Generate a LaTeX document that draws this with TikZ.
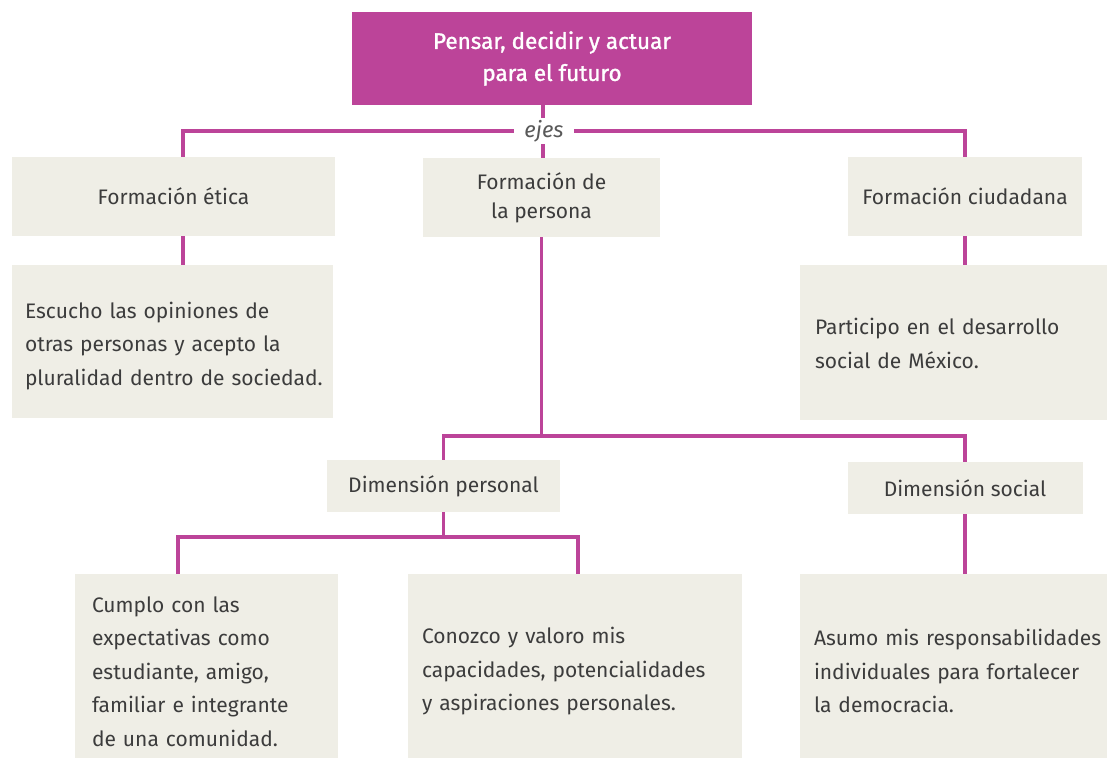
\documentclass[tikz,border=0pt]{standalone}
\usepackage{fontspec}
\setmainfont{Fira Sans}
\definecolor{mag}{HTML}{BC4499}
\definecolor{beige}{HTML}{EFEEE6}
\definecolor{txt}{HTML}{3C3C3C}
\hbadness=10000 \hfuzz=100pt
\newcommand{\topstrut}[1]{\rule{0pt}{#1}}
\tikzset{
  box/.style={fill=beige, inner sep=0pt, text=txt, font=\fontsize{21}{33.5}\selectfont},
  topbox/.style={fill=mag, inner sep=0pt, text=white, align=center, font=\fontsize{22.5}{32}\selectfont\addfontfeature{FakeBold=1.2}},
  link/.style={draw=mag, line width=3.5pt},
  lbl/.style={fill=white, inner xsep=10pt, inner ysep=2pt, text=txt!85, font=\fontsize{22}{24}\selectfont\itshape},
}
\begin{document}
\begin{tikzpicture}[x=1pt,y=-1pt]
\useasboundingbox (0,0) rectangle (1107,758);
% nodes
\node[topbox, minimum width=400pt, minimum height=93pt] (top) at (552,58.5) {Pensar, decidir y actuar\\para el futuro};
\node[box, minimum width=323pt, minimum height=79pt] (eti) at (173.5,196.5) {Formación ética};
\node[box, minimum width=237pt, minimum height=79pt, align=center, font=\fontsize{21}{29}\selectfont] (per) at (541.5,197.5) {Formación de\\la persona};
\node[box, minimum width=234pt, minimum height=79pt] (ciu) at (965,196.5) {Formación ciudadana};
\node[box, minimum width=321pt, minimum height=153pt, text width=295pt, align=left] (esc) at (172.5,341.5) {\topstrut{24.5pt}\mbox{Escucho las opiniones de}\\\mbox{otras personas y acepto la}\\\mbox{pluralidad dentro de sociedad.}};
\node[box, minimum width=307pt, minimum height=155pt, text width=277pt, align=left] (par) at (953.5,342.5) {\topstrut{18.5pt}\mbox{Participo en el desarrollo}\\\mbox{social de México.}};
\node[box, minimum width=233pt, minimum height=52pt] (dp) at (443.5,486) {Dimensión personal};
\node[box, minimum width=235pt, minimum height=52pt] (ds) at (965,488) {Dimensión social};
\node[box, minimum width=263pt, minimum height=184pt, text width=229pt, align=left] (cum) at (206.5,666) {\topstrut{26.5pt}\mbox{Cumplo con las}\\\mbox{expectativas como}\\\mbox{estudiante, amigo,}\\\mbox{familiar e integrante}\\\mbox{de una comunidad.}};
\node[box, minimum width=334pt, minimum height=184pt, text width=306pt, align=left] (con) at (575,666) {\topstrut{26.5pt}\mbox{Conozco y valoro mis}\\\mbox{capacidades, potencialidades}\\\mbox{y aspiraciones personales.}};
\node[box, minimum width=307pt, minimum height=184pt, text width=279pt, align=left] (asu) at (953.5,666) {\topstrut{26.5pt}\mbox{Asumo mis responsabilidades}\\\mbox{individuales para fortalecer}\\\mbox{la democracia.}};
% junction coordinates
\coordinate (hL) at (183,131);
\coordinate (hM) at (543,131);
\coordinate (hR) at (965,131);
\coordinate (j2) at (541.5,436);
\coordinate (c1) at (178,537);
\coordinate (c2) at (578,537);
% connectors
\draw[link] (hM |- top.south) -- (hM |- per.north);
\draw[link] (hL |- eti.north) -- (hL) -- (hR) -- (hR |- ciu.north);
\node[lbl] (ejes) at (544,131) {ejes};
\draw[link] (hL |- eti.south) -- (hL |- esc.north);
\draw[link] (ciu.south) -- (ciu.south |- par.north);
\draw[link] (per.south) -- (j2);
\draw[link] (dp.north) -- (dp.north |- j2) -- (ds.north |- j2) -- (ds.north);
\draw[link] (dp.south) -- (dp.south |- c1);
\draw[link] (c1 |- cum.north) -- (c1) -- (c2) -- (c2 |- con.north);
\draw[link] (ds.south) -- (ds.south |- asu.north);
\end{tikzpicture}
\end{document}
